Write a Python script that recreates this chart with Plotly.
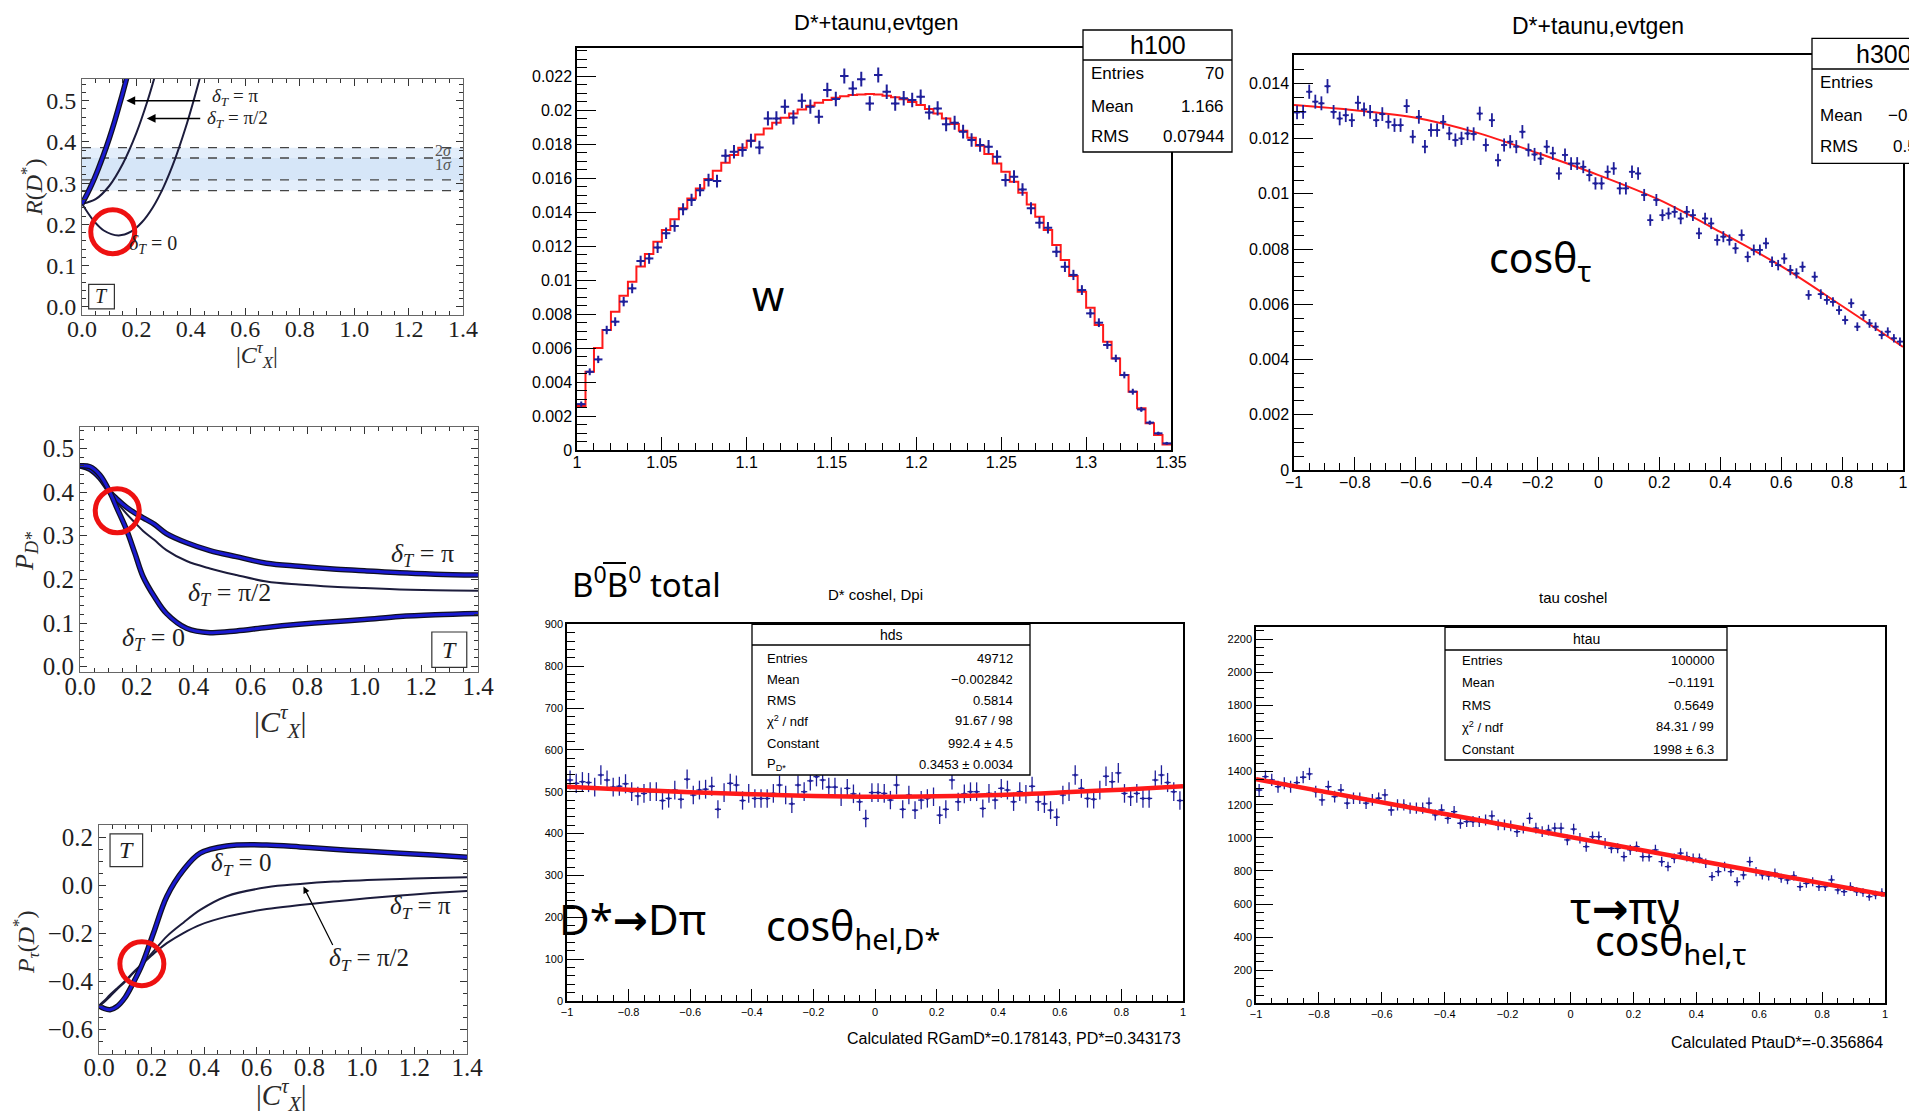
import numpy as np
import plotly.graph_objects as go

W, H = 1917, 1115
OFF = 8                     # page body margin of the html page
FW, FH = W - OFF, H - OFF   # figure size so that it fills the window exactly

# ---------------- data ----------------
# Panel 1: R(D*) vs |C_X^tau|
rd_x_pi = [0, 0.02, 0.04, 0.06, 0.08, 0.10, 0.12, 0.14, 0.16, 0.166]
rd_y_pi = [0.250, 0.275, 0.303, 0.335, 0.370, 0.408, 0.450, 0.496, 0.544, 0.560]
rd_x_half = [0, 0.05, 0.10, 0.15, 0.20, 0.24, 0.268]
rd_y_half = [0.250, 0.261, 0.293, 0.347, 0.422, 0.498, 0.560]
rd_x_zero = [0, 0.04, 0.08, 0.134, 0.18, 0.22, 0.26, 0.30, 0.34, 0.38, 0.41, 0.435]
rd_y_zero = [0.250, 0.211, 0.185, 0.173, 0.182, 0.205, 0.241, 0.291, 0.355, 0.433, 0.500, 0.560]
rd_band_2s = [0.282, 0.386]
rd_band_1s = [0.308, 0.361]

# Panel 2: P_D* vs |C_X^tau|
pd_x = [0, 0.035, 0.07, 0.105, 0.13, 0.164, 0.193, 0.222, 0.262, 0.304, 0.375, 0.457,
        0.55, 0.656, 0.77, 0.89, 1.0, 1.124, 1.25, 1.4]
pd_zero = [0.46, 0.458, 0.439, 0.40, 0.363, 0.313, 0.26, 0.206, 0.16, 0.122, 0.088, 0.078,
           0.082, 0.09, 0.097, 0.103, 0.108, 0.115, 0.119, 0.122]
pd_half = [0.46, 0.455, 0.435, 0.40, 0.377, 0.35, 0.33, 0.311, 0.29, 0.267, 0.242, 0.225,
           0.21, 0.195, 0.188, 0.183, 0.18, 0.177, 0.175, 0.174]
pd_pi = [0.46, 0.452, 0.432, 0.40, 0.384, 0.365, 0.352, 0.341, 0.326, 0.305, 0.284, 0.266,
         0.252, 0.237, 0.230, 0.224, 0.22, 0.215, 0.212, 0.21]

# Panel 3: P_tau(D*) vs |C_X^tau|
pt_x = [0, 0.02, 0.042, 0.067, 0.1, 0.13, 0.165, 0.207, 0.258, 0.321, 0.385, 0.486,
        0.638, 0.765, 0.892, 1.02, 1.146, 1.27, 1.4]
pt_zero = [-0.50, -0.512, -0.517, -0.505, -0.465, -0.406, -0.326, -0.199, -0.046, 0.064, 0.134, 0.164,
           0.168, 0.16, 0.15, 0.142, 0.134, 0.126, 0.117]
pt_half = [-0.50, -0.485, -0.462, -0.434, -0.40, -0.365, -0.326, -0.275, -0.212, -0.155, -0.102, -0.045,
           -0.008, 0.006, 0.016, 0.022, 0.027, 0.031, 0.034]
pt_pi = [-0.50, -0.48, -0.455, -0.43, -0.396, -0.362, -0.326, -0.285, -0.24, -0.198, -0.164, -0.13,
         -0.098, -0.082, -0.067, -0.054, -0.042, -0.032, -0.023]

# Panel 4: w histogram (h100), 70 bins 1.0 .. 1.35
w_range = (1.0, 1.35)
w_pred = [0.00259, 0.0046, 0.0060, 0.00706, 0.00814, 0.00908, 0.0099, 0.0108, 0.01153, 0.01225,
          0.01294, 0.01357, 0.01422, 0.0148, 0.01539, 0.01594, 0.01643, 0.0169, 0.01735, 0.01778,
          0.0182, 0.01857, 0.01892, 0.01925, 0.01955, 0.0198, 0.02004, 0.02025, 0.02043, 0.02059,
          0.02073, 0.02082, 0.02088, 0.02092, 0.02094, 0.02092, 0.02084, 0.02075, 0.02063, 0.02047,
          0.0203, 0.02006, 0.0198, 0.01951, 0.01918, 0.01878, 0.01837, 0.0179, 0.01741, 0.01686,
          0.01637, 0.01578, 0.01514, 0.01445, 0.01373, 0.01294, 0.01206, 0.01118, 0.01024, 0.00931,
          0.00837, 0.00735, 0.00637, 0.00539, 0.00441, 0.00343, 0.00245, 0.00157, 0.00088, 0.00033]
w_data = [0.0027, 0.0046, 0.00533, 0.00706, 0.00755, 0.00873, 0.00951, 0.01112, 0.01127, 0.01192,
          0.01275, 0.01318, 0.01416, 0.01471, 0.01529, 0.01588, 0.01582, 0.01731, 0.01755, 0.01765,
          0.0182, 0.0178, 0.01951, 0.01951, 0.0202, 0.01957, 0.02055, 0.0202, 0.01961, 0.02118,
          0.02065, 0.022, 0.02127, 0.02182, 0.02039, 0.02206, 0.02108, 0.02039, 0.02069, 0.02059,
          0.02078, 0.01986, 0.0201, 0.01916, 0.01925, 0.01873, 0.01824, 0.01794, 0.01784, 0.01725,
          0.01588, 0.01608, 0.01533, 0.01422, 0.01337, 0.01308, 0.01167, 0.01078, 0.0103, 0.00941,
          0.00804, 0.00749, 0.00618, 0.00539, 0.00441, 0.00343, 0.00239, 0.00161, 0.00098, 0.00039]
w_err_scale = 8.8e-6

# Panel 5: cos(theta_tau) histogram (h300), 100 bins -1 .. 1
ct_range = (-1.0, 1.0)
ct_data = [0.01295, 0.01297, 0.01370, 0.01334, 0.01328, 0.01390, 0.01297, 0.01273, 0.01285, 0.01267,
           0.01330, 0.01306, 0.01297, 0.01267, 0.01289, 0.01261, 0.01249, 0.01249, 0.01318, 0.01207,
           0.01279, 0.01171, 0.01231, 0.01231, 0.01261, 0.01219, 0.01195, 0.01201, 0.01219, 0.01217,
           0.01291, 0.01177, 0.01267, 0.01122, 0.01177, 0.01189, 0.01171, 0.01225, 0.01159, 0.01143,
           0.01128, 0.01171, 0.01147, 0.01074, 0.01141, 0.01110, 0.01110, 0.01098, 0.01068, 0.01038,
           0.01038, 0.01080, 0.01092, 0.01020, 0.01020, 0.01080, 0.01074, 0.00996, 0.00905, 0.00978,
           0.00923, 0.00929, 0.00935, 0.00911, 0.00935, 0.00923, 0.00857, 0.00911, 0.00893, 0.00833,
           0.00845, 0.00833, 0.00803, 0.00851, 0.00772, 0.00797, 0.00797, 0.00821, 0.00754, 0.00742,
           0.00766, 0.00724, 0.00712, 0.00736, 0.00634, 0.00700, 0.00637, 0.00616, 0.00609, 0.00579,
           0.00543, 0.00604, 0.00519, 0.00561, 0.00531, 0.00519, 0.00489, 0.00501, 0.00477, 0.00465]
ct_fit_x = [-1, -0.8, -0.6, -0.4, -0.2, 0, 0.2, 0.4, 0.6, 0.8, 1]
ct_fit_y = [0.01322, 0.01303, 0.01276, 0.01222, 0.01148, 0.01068, 0.00978, 0.00862, 0.00738, 0.00594, 0.00446]
ct_err_scale = 4.8e-6

# Panel 6: D* coshel, Dpi (hds), 100 bins -1 .. 1
ds_range = (-1.0, 1.0)
ds_data = [528, 520, 524, 522, 511, 540, 528, 511, 513, 519,
           500, 490, 496, 500, 500, 479, 484, 504, 482, 530,
           492, 504, 506, 513, 458, 498, 520, 516, 479, 496,
           484, 484, 484, 496, 516, 492, 471, 516, 500, 526,
           536, 528, 511, 511, 488, 508, 495, 476, 436, 498,
           498, 496, 480, 516, 458, 492, 456, 480, 484, 488,
           444, 458, 528, 476, 495, 500, 500, 460, 496, 480,
           508, 504, 476, 500, 494, 513, 476, 471, 456, 439,
           492, 500, 540, 508, 484, 482, 504, 537, 524, 545,
           496, 488, 496, 484, 484, 528, 540, 522, 500, 479]
ds_fit_x = [-1, -0.8, -0.6, -0.4, -0.2, 0, 0.2, 0.4, 0.6, 0.8, 1]
ds_fit_y = [512, 505, 499, 494, 490, 488, 489, 492, 498, 505, 513]

# Panel 7: tau coshel (htau), 100 bins -1 .. 1
tau_range = (-1.0, 1.0)
tau_data = [1289, 1370, 1350, 1309, 1330, 1309, 1334, 1366, 1386, 1279,
            1229, 1309, 1249, 1289, 1209, 1239, 1239, 1209, 1229, 1239,
            1259, 1168, 1199, 1199, 1179, 1179, 1179, 1209, 1138, 1168,
            1118, 1158, 1088, 1098, 1098, 1098, 1108, 1132, 1078, 1078,
            1072, 1037, 1058, 1118, 1058, 1037, 1047, 1058, 1058, 987,
            1052, 997, 947, 1007, 1007, 967, 937, 937, 886, 927,
            947, 886, 886, 927, 856, 826, 876, 907, 886, 876,
            876, 846, 766, 796, 826, 796, 735, 776, 856, 796,
            776, 770, 786, 756, 746, 770, 705, 725, 735, 705,
            705, 746, 685, 675, 705, 675, 669, 645, 655, 669]
tau_fit_x = [-1, -0.5, 0, 0.5, 1]
tau_fit_y = [1354, 1180, 1005, 830, 655]

# ---------------- helpers (window pixel -> paper) ----------------
def XD(a, b):
    return [(a - OFF) / FW, (b - OFF) / FW]


def YD(top, bot):
    return [1 - (bot - OFF) / FH, 1 - (top - OFF) / FH]


def px(x):
    return (x - OFF) / FW


def py(y):
    return 1 - (y - OFF) / FH


BLUE = '#1a1ad0'
NAVY = '#1c1c3c'
RBLUE = '#1f1f9a'
RED = '#ff1a1a'
SERIF = 'Liberation Serif'
SANS = 'Liberation Sans'
CAL = 'Noto Sans'
ARROW = '<span style="font-family:DejaVu Sans;font-weight:bold">→</span>'

fig = go.Figure()


def curve(x, y, ax, thick):
    xa, ya = ax
    if thick:
        fig.add_trace(go.Scatter(x=x, y=y, mode='lines', line=dict(color='#101020', width=5.5, shape='spline'),
                                 xaxis=xa, yaxis=ya, showlegend=False, hoverinfo='skip'))
        fig.add_trace(go.Scatter(x=x, y=y, mode='lines', line=dict(color=BLUE, width=3, shape='spline'),
                                 xaxis=xa, yaxis=ya, showlegend=False))
    else:
        fig.add_trace(go.Scatter(x=x, y=y, mode='lines', line=dict(color=NAVY, width=2, shape='spline'),
                                 xaxis=xa, yaxis=ya, showlegend=False))


# Panel 1
curve(rd_x_zero, rd_y_zero, ('x', 'y'), False)
curve(rd_x_half, rd_y_half, ('x', 'y'), False)
curve(rd_x_pi, rd_y_pi, ('x', 'y'), True)
# Panel 2
curve(pd_x, pd_half, ('x2', 'y2'), False)
curve(pd_x, pd_pi, ('x2', 'y2'), True)
curve(pd_x, pd_zero, ('x2', 'y2'), True)
# Panel 3
curve(pt_x, pt_half, ('x3', 'y3'), False)
curve(pt_x, pt_pi, ('x3', 'y3'), False)
curve(pt_x, pt_zero, ('x3', 'y3'), True)


def hist_points(vals, rng, errs, xa, ya, thick=1.5):
    n = len(vals)
    bw = (rng[1] - rng[0]) / n
    centers = rng[0] + (np.arange(n) + 0.5) * bw
    fig.add_trace(go.Scatter(x=centers, y=vals, mode='markers', xaxis=xa, yaxis=ya, showlegend=False,
                             marker=dict(color=RBLUE, size=3),
                             error_y=dict(type='data', array=errs, color=RBLUE, thickness=thick, width=0),
                             error_x=dict(type='constant', value=bw / 2, color=RBLUE, thickness=thick, width=0)))


# Panel 4: step prediction + data
n4 = len(w_pred)
edges4 = w_range[0] + np.arange(n4 + 1) * (w_range[1] - w_range[0]) / n4
fig.add_trace(go.Scatter(x=edges4, y=list(w_pred) + [w_pred[-1]], mode='lines',
                         line=dict(color=RED, width=2, shape='hv'), xaxis='x4', yaxis='y4', showlegend=False))
hist_points(w_data, w_range, np.sqrt(np.array(w_data) * w_err_scale), 'x4', 'y4', 2)

# Panel 5
fig.add_trace(go.Scatter(x=ct_fit_x, y=ct_fit_y, mode='lines', line=dict(color=RED, width=2, shape='spline'),
                         xaxis='x5', yaxis='y5', showlegend=False))
hist_points(ct_data, ct_range, np.sqrt(np.array(ct_data) * ct_err_scale), 'x5', 'y5', 1.8)

# Panel 6
hist_points(ds_data, ds_range, np.sqrt(np.array(ds_data, float)), 'x6', 'y6', 1.3)
fig.add_trace(go.Scatter(x=ds_fit_x, y=ds_fit_y, mode='lines', line=dict(color=RED, width=4.5, shape='spline'),
                         xaxis='x6', yaxis='y6', showlegend=False))

# Panel 7
hist_points(tau_data, tau_range, np.sqrt(np.array(tau_data, float)), 'x7', 'y7', 1.3)
fig.add_trace(go.Scatter(x=tau_fit_x, y=tau_fit_y, mode='lines', line=dict(color=RED, width=4.5),
                         xaxis='x7', yaxis='y7', showlegend=False))

# ---------------- axes ----------------
def math_axis(domain, rng, dtick, mdtick, anchor, size=22, standoff=0):
    return dict(domain=domain, range=rng, anchor=anchor, dtick=dtick, tick0=0, tickformat='.1f',
                showline=True, mirror='allticks', linecolor='#666666', linewidth=1,
                ticks='inside', ticklen=7, tickwidth=1, tickcolor='#333333',
                minor=dict(ticks='inside', ticklen=4, dtick=mdtick, tickcolor='#333333', tickwidth=1),
                showgrid=False, zeroline=False, automargin=False, ticklabelstandoff=standoff,
                tickfont=dict(family=SERIF, size=size, color='#1e1e1e'))


def root_axis(domain, rng, dtick, mdtick, anchor, tlen, mlen, size=16, tick0=0, standoff=0):
    return dict(domain=domain, range=rng, anchor=anchor, dtick=dtick, tick0=tick0,
                showline=True, mirror=True, linecolor='black', linewidth=1.5,
                ticks='inside', ticklen=tlen, tickwidth=1.3, tickcolor='black',
                minor=dict(ticks='inside', ticklen=mlen, dtick=mdtick, tickcolor='black', tickwidth=1.1),
                showgrid=False, zeroline=False, automargin=False, ticklabelstandoff=standoff,
                tickfont=dict(family=SANS, size=size, color='black'))


layout = dict(
    width=FW, height=FH, margin=dict(l=0, r=0, t=0, b=0, pad=0), autosize=False,
    paper_bgcolor='white', plot_bgcolor='white', showlegend=False,
    xaxis=math_axis(XD(82, 463), [0, 1.4], 0.2, 0.05, 'y', 24, -8),
    yaxis=math_axis(YD(79, 315), [-0.0201, 0.5527], 0.1, 0.02, 'x', 24),
    xaxis2=math_axis(XD(80, 478), [0, 1.4], 0.2, 0.05, 'y2', 25, -8),
    yaxis2=math_axis(YD(427, 672), [-0.0121, 0.5489], 0.1, 0.02, 'x2', 25),
    xaxis3=math_axis(XD(99, 467), [0, 1.4], 0.2, 0.05, 'y3', 25, -9),
    yaxis3=math_axis(YD(825, 1054), [-0.701, 0.251], 0.2, 0.05, 'x3', 25),
    xaxis4=root_axis(XD(577, 1171), [1.0, 1.35], 0.05, 0.01, 'y4', 13, 7, tick0=1.0, standoff=-3),
    yaxis4=root_axis(YD(47.7, 450), [0, 0.02367], 0.002, 0.0005, 'x4', 19, 10),
    xaxis5=root_axis(XD(1294, 1903), [-1, 1], 0.2, 0.05, 'y5', 13, 7, standoff=-3),
    yaxis5=root_axis(YD(55, 470), [0, 0.01503], 0.002, 0.0005, 'x5', 19, 10),
    xaxis6=root_axis(XD(567, 1183), [-1, 1], 0.2, 0.05, 'y6', 12, 6, 11),
    yaxis6=root_axis(YD(624.3, 1001), [0, 900], 100, 20, 'x6', 17, 8, 11),
    xaxis7=root_axis(XD(1256, 1885), [-1, 1], 0.2, 0.05, 'y7', 12, 6, 11),
    yaxis7=root_axis(YD(627.3, 1003.3), [0, 2272], 200, 50, 'x7', 17, 8, 11),
)
fig.update_layout(**layout)

shapes = []
ann = []

# ---- Panel 1 decorations ----
shapes.append(dict(type='rect', xref='x domain', yref='y', x0=0, x1=1, y0=rd_band_2s[0], y1=rd_band_2s[1],
                   fillcolor='#e3eefb', line=dict(width=0), layer='below'))
shapes.append(dict(type='rect', xref='x domain', yref='y', x0=0, x1=1, y0=rd_band_1s[0], y1=rd_band_1s[1],
                   fillcolor='#d6e6f8', line=dict(width=0), layer='below'))
for v in rd_band_2s + rd_band_1s:
    shapes.append(dict(type='line', xref='x domain', yref='y', x0=0, x1=1, y0=v, y1=v,
                       line=dict(color='#444444', width=1.3, dash='dash'), layer='below'))
shapes.append(dict(type='rect', xref='x', yref='y', x0=0.0245, x1=0.119, y0=-0.005, y1=0.054,
                   line=dict(color='#333333', width=1.2), fillcolor='white', layer='above'))


def mlabel(text, x, y, xa, ya, size, xanchor='center', color='#1e1e1e'):
    ann.append(dict(text=text, x=x, y=y, xref=xa, yref=ya, showarrow=False, xanchor=xanchor, yanchor='middle',
                    font=dict(family=SERIF, size=size, color=color)))


def marrow(tx, ty, hx, hy, xa, ya, w=1.6):
    ann.append(dict(text='', x=hx, y=hy, ax=tx, ay=ty, xref=xa, yref=ya, axref=xa, ayref=ya,
                    showarrow=True, arrowhead=2, arrowsize=1.1, arrowwidth=w, arrowcolor='black'))


mlabel('<i>δ<sub>T</sub></i> = π', 0.471, 0.508, 'x', 'y', 19, 'left')
mlabel('<i>δ<sub>T</sub></i> = π/2', 0.452, 0.455, 'x', 'y', 19, 'left')
mlabel('<i>δ<sub>T</sub></i> = 0', 0.26, 0.152, 'x', 'y', 20)
mlabel('2<i>σ</i>', 1.327, 0.380, 'x', 'y', 16, color='#555555')
mlabel('1<i>σ</i>', 1.327, 0.344, 'x', 'y', 16, color='#555555')
mlabel('<i>T</i>', 0.072, 0.025, 'x', 'y', 20)
marrow(0.44, 0.5, 0.163, 0.5, 'x', 'y')
marrow(0.44, 0.457, 0.238, 0.457, 'x', 'y')

# ---- Panel 2 decorations ----
shapes.append(dict(type='rect', xref='x2', yref='y2', x0=1.2376, x1=1.3605, y0=-0.0015, y1=0.0795,
                   line=dict(color='#333333', width=1.2), fillcolor='white', layer='above'))
mlabel('<i>δ<sub>T</sub></i> = π', 1.205, 0.255, 'x2', 'y2', 26)
mlabel('<i>δ<sub>T</sub></i> = π/2', 0.527, 0.167, 'x2', 'y2', 26)
mlabel('<i>δ<sub>T</sub></i> = 0', 0.2575, 0.064, 'x2', 'y2', 26)
mlabel('<i>T</i>', 1.299, 0.039, 'x2', 'y2', 24)

# ---- Panel 3 decorations ----
shapes.append(dict(type='rect', xref='x3', yref='y3', x0=0.042, x1=0.166, y0=0.078, y1=0.2137,
                   line=dict(color='#333333', width=1.2), fillcolor='white', layer='above'))
mlabel('<i>δ<sub>T</sub></i> = 0', 0.54, 0.088, 'x3', 'y3', 25)
mlabel('<i>δ<sub>T</sub></i> = π', 1.222, -0.092, 'x3', 'y3', 25)
mlabel('<i>δ<sub>T</sub></i> = π/2', 1.028, -0.307, 'x3', 'y3', 25)
mlabel('<i>T</i>', 0.104, 0.146, 'x3', 'y3', 24)
marrow(0.892, -0.254, 0.778, -0.005, 'x3', 'y3', 1.2)

# red circles
for (xa, ya, cx, cy) in [('x', 'y', 0.113, 0.182), ('x2', 'y2', 0.131, 0.357), ('x3', 'y3', 0.163, -0.326)]:
    shapes.append(dict(type='circle', xref=xa, yref=ya, xsizemode='pixel', ysizemode='pixel',
                       xanchor=cx, yanchor=cy, x0=-22, x1=22, y0=-22, y1=22,
                       line=dict(color='#ee1111', width=5), layer='above'))


def ptext(text, x, y, size, family, xanchor='center', yanchor='middle', color='black', angle=0, **kw):
    d = dict(text=text, x=px(x), y=py(y), xref='paper', yref='paper', showarrow=False,
             xanchor=xanchor, yanchor=yanchor, textangle=angle,
             font=dict(family=family, size=size, color=color))
    d.update(kw)
    ann.append(d)


# axis titles of Mathematica panels
ptext('<i>R</i>(<i>D</i><sup>*</sup>)', 32, 188, 24, SERIF, angle=-90, color='#2a2a2a')
ptext('|<i>C</i><sup><i>τ</i></sup><sub><i>X</i></sub>|', 256.7, 355, 24, SERIF, color='#2a2a2a')
ptext('<i>P<sub>D*</sub></i>', 26, 551, 26, SERIF, angle=-90, color='#2a2a2a')
ptext('|<i>C</i><sup><i>τ</i></sup><sub><i>X</i></sub>|', 280, 721, 30, SERIF, color='#2a2a2a')
ptext('<i>P<sub>τ</sub></i>(<i>D</i><sup>*</sup>)', 26, 943, 24, SERIF, angle=-90, color='#2a2a2a')
ptext('|<i>C</i><sup><i>τ</i></sup><sub><i>X</i></sub>|', 281, 1095, 29, SERIF, color='#2a2a2a')

# ---- ROOT titles ----
ptext('D*+taunu,evtgen', 876, 22, 22, SANS)
ptext('D*+taunu,evtgen', 1598, 26, 23, SANS)
ptext('D* coshel, Dpi', 875, 594, 15, SANS)
ptext('tau coshel', 1573, 597, 15, SANS)
ptext('Calculated RGamD*=0.178143, PD*=0.343173', 1183, 1038, 16, SANS, xanchor='right')
ptext('Calculated PtauD*=-0.356864', 1885, 1042, 16, SANS, xanchor='right')


# ---- stats boxes ----
def statbox(x0, x1, y0, y1, ysep):
    shapes.append(dict(type='rect', xref='paper', yref='paper', x0=px(x0), x1=px(x1), y0=py(y1), y1=py(y0),
                       fillcolor='white', line=dict(color='black', width=1.3), layer='above'))
    shapes.append(dict(type='line', xref='paper', yref='paper', x0=px(x0), x1=px(x1), y0=py(ysep), y1=py(ysep),
                       line=dict(color='black', width=1.3), layer='above'))


statbox(1083, 1232, 30, 152, 60)
ptext('h100', 1158, 45, 25, SANS)
for lab, val, yy in [('Entries', '70', 74), ('Mean', '1.166', 106), ('RMS', '0.07944', 136)]:
    ptext(lab, 1089, yy, 17, SANS, xanchor='left')
    ptext(val, 1226, yy, 17, SANS, xanchor='right')

statbox(1812, 1990, 38.3, 163.3, 69)
ptext('h300', 1884, 54, 25, SANS)
for lab, yy in [('Entries', 82.7), ('Mean', 115.7), ('RMS', 146)]:
    ptext(lab, 1818, yy, 17, SANS, xanchor='left')
ptext('−0.', 1886, 115.7, 17, SANS, xanchor='left')
ptext('0.5', 1891, 146, 17, SANS, xanchor='left')

statbox(752, 1030, 624.3, 775, 645)
ptext('hds', 891, 635, 14, SANS)
for lab, val, yy in [('Entries', '49712', 658.3), ('Mean', '−0.002842', 679), ('RMS', '0.5814', 700.7),
                     ('χ<sup>2</sup> / ndf', '91.67 / 98', 720.7), ('Constant', '992.4 ± 4.5', 743.3),
                     ('P<sub>D*</sub>', '0.3453 ± 0.0034', 764)]:
    ptext(lab, 765, yy, 13, SANS, xanchor='left')
    ptext(val, 1015, yy, 13, SANS, xanchor='right')

statbox(1445, 1727, 627.3, 760, 650)
ptext('htau', 1586, 638.5, 14, SANS)
for lab, val, yy in [('Entries', '100000', 660.7), ('Mean', '−0.1191', 682.7), ('RMS', '0.5649', 705),
                     ('χ<sup>2</sup> / ndf', '84.31 / 99', 726.7), ('Constant', '1998 ± 6.3', 749.3)]:
    ptext(lab, 1460, yy, 13, SANS, xanchor='left')
    ptext(val, 1716, yy, 13, SANS, xanchor='right')

# ---- slide annotations (large sans text) ----
ptext('w', 768, 295.5, 41, CAL)
ptext('cosθ<sub>τ</sub>', 1487, 227, 41, CAL, xanchor='left', yanchor='top')
ptext('B<sup>0</sup>B<sup>0</sup> total', 570, 609, 33, CAL, xanchor='left', yanchor='bottom')
shapes.append(dict(type='line', xref='paper', yref='paper', x0=px(603), x1=px(626), y0=py(563), y1=py(563),
                   line=dict(color='black', width=2), layer='above'))
ptext('D*' + ARROW + 'Dπ', 557, 918.5, 42, CAL, xanchor='left')
ptext('cosθ<sub>hel,D*</sub>', 764, 894.5, 41, CAL, xanchor='left', yanchor='top')
ptext('τ' + ARROW + 'πν', 1568, 907, 44, CAL, xanchor='left')
ptext('cosθ<sub>hel,τ</sub>', 1593, 910, 41, CAL, xanchor='left', yanchor='top')

fig.update_layout(shapes=shapes, annotations=ann)
fig.write_html('out.html')
